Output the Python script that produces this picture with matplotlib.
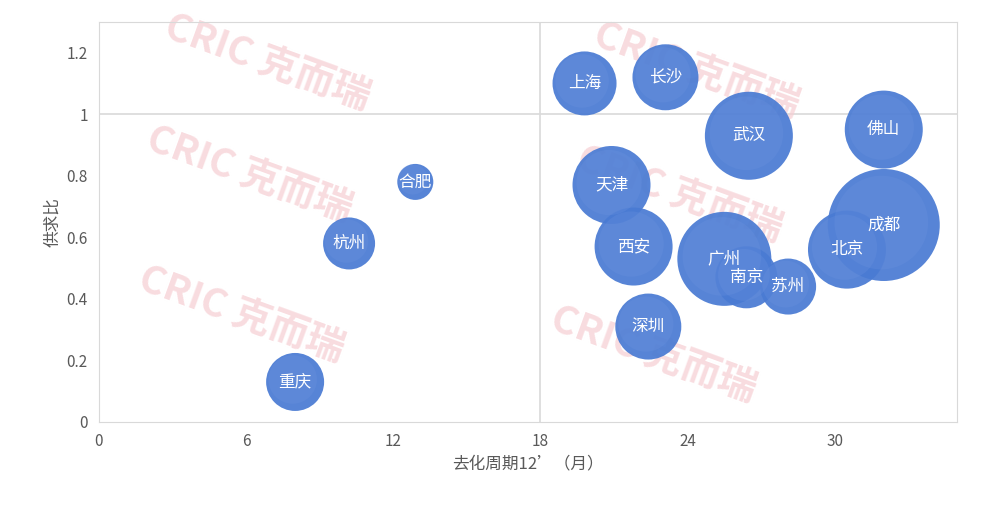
import matplotlib.pyplot as plt
import numpy as np

plt.rcParams['font.family'] = ['Noto Sans CJK SC', 'DejaVu Sans']

cities = ['上海', '长沙', '武汉', '佛山', '合肥', '天津', '杭州', '西安',
          '成都', '广州', '北京', '南京', '苏州', '深圳', '重庆']
cycle = [19.8, 23.1, 26.5, 32.0, 12.9, 20.9, 10.2, 21.8,
         32.0, 25.5, 30.5, 26.4, 28.1, 22.4, 8.0]
ratio = [1.10, 1.12, 0.93, 0.95, 0.78, 0.77, 0.58, 0.57,
         0.64, 0.53, 0.56, 0.47, 0.44, 0.31, 0.13]
# bubble radius (px at dpi 100)
radius = [32, 33, 44, 39, 18, 39, 26, 39, 56, 47, 39, 31, 28, 33, 29]

fig = plt.figure(figsize=(9.89, 5.09), dpi=100)
ax = fig.add_axes([0.1, 0.171, 0.868, 0.786])

# watermarks
for wx, wy in [(0.07, 0.78), (0.57, 0.76), (0.05, 0.50), (0.55, 0.45), (0.04, 0.15), (0.52, 0.05)]:
    ax.text(wx, wy, 'CRIC 克而瑞', transform=ax.transAxes, fontsize=28, fontweight='bold',
            color='#f6cdd2', alpha=0.7, rotation=-20, zorder=2)

ax.axvline(18, color='#d9d9d9', lw=1.2, zorder=1)
ax.axhline(1, color='#d9d9d9', lw=1.2, zorder=1)

sizes = [(1.44 * r) ** 2 for r in radius]
ax.scatter(cycle, ratio, s=sizes, color='#4a7bd3', edgecolors='none', alpha=0.93, zorder=3)
ax.scatter(np.array(cycle) - 0.1, np.array(ratio) + 0.008, s=[s * 0.7 for s in sizes],
           color='#6f95e0', edgecolors='none', alpha=0.25, zorder=3)
for c, x, y in zip(cities, cycle, ratio):
    ax.text(x, y, c, ha='center', va='center', color='white', fontsize=12, zorder=4)

ax.set_xlim(0, 35)
ax.set_ylim(0, 1.3)
ax.set_xticks([0, 6, 12, 18, 24, 30])
ax.set_yticks([0, 0.2, 0.4, 0.6, 0.8, 1, 1.2])
ax.set_yticklabels(['0', '0.2', '0.4', '0.6', '0.8', '1', '1.2'])
ax.tick_params(length=0, labelsize=11, colors='#595959', pad=8)
for s in ax.spines.values():
    s.set_color('#d9d9d9')
ax.set_xlabel('去化周期12’（月）', fontsize=12, color='#595959')
ax.set_ylabel('供求比', fontsize=12, color='#595959')

fig.savefig('out.png')
